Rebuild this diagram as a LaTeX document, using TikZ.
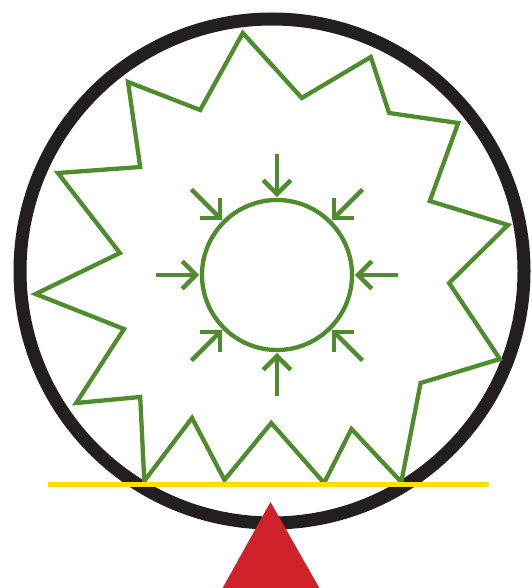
\documentclass[tikz,border=0pt]{standalone}
\definecolor{ringblack}{HTML}{231F20}
\definecolor{leafgreen}{HTML}{4F8C2E}
\definecolor{lineyellow}{HTML}{FFE100}
\definecolor{wedgered}{HTML}{D0222A}
\tikzset{
  ring/.style={draw=ringblack, line width=13pt},
  star/.style={draw=leafgreen, line width=4.3pt, line join=miter, miter limit=20},
  greencircle/.style={draw=leafgreen, line width=4.3pt},
  shaft/.style={draw=leafgreen, line width=4.3pt},
  barb/.style={draw=leafgreen, line width=4.3pt, line join=miter},
  ground/.style={draw=lineyellow, line width=5.3pt},
  fulcrum/.style={fill=wedgered, draw=none}
}
\begin{document}
\begin{tikzpicture}[x=1pt, y=-1pt]
\useasboundingbox (0,0) rectangle (531,588);
\coordinate (bigc) at (272,271);
\coordinate (c) at (277,275);
% black ring
\draw[ring] (bigc) circle[radius=252];
% green star polygon
\draw[star] (242.8,33) -- (301.8,98) -- (370.8,57) -- (389.1,113) -- (458.2,123) -- (429.8,201)
  -- (508,225) -- (449.1,283) -- (499.9,359) -- (420.6,383) -- (401.3,482) -- (351.5,429)
  -- (324.1,483) -- (271.3,423) -- (224.5,480) -- (192,418) -- (144.3,481) -- (140.2,397)
  -- (76.2,403) -- (124,329) -- (35.6,294) -- (119.9,253) -- (57.9,173) -- (140.2,167)
  -- (128,82) -- (200.2,110) -- cycle;
% inner circle
\draw[greencircle] (c) circle[radius=75];
% inward arrows
\begin{scope}[shift={(c)}]
\foreach \a in {0,45,...,315} {
  \draw[shaft] (\a:121) -- (\a:82);
  \draw[barb] (\a:81) ++(\a+45:19.5) -- (\a:81) -- ++(\a-45:19.5);
}
\end{scope}
% yellow line
\coordinate (yl) at (48,484.6);
\coordinate (yr) at (489,484.6);
\draw[ground] (yl) -- (yr);
% red triangle
\coordinate (apex) at (270.5,502);
\coordinate (bl) at (221.5,590);
\coordinate (br) at (320.5,590);
\fill[fulcrum] (apex) -- (br) -- (bl) -- cycle;
\end{tikzpicture}
\end{document}
